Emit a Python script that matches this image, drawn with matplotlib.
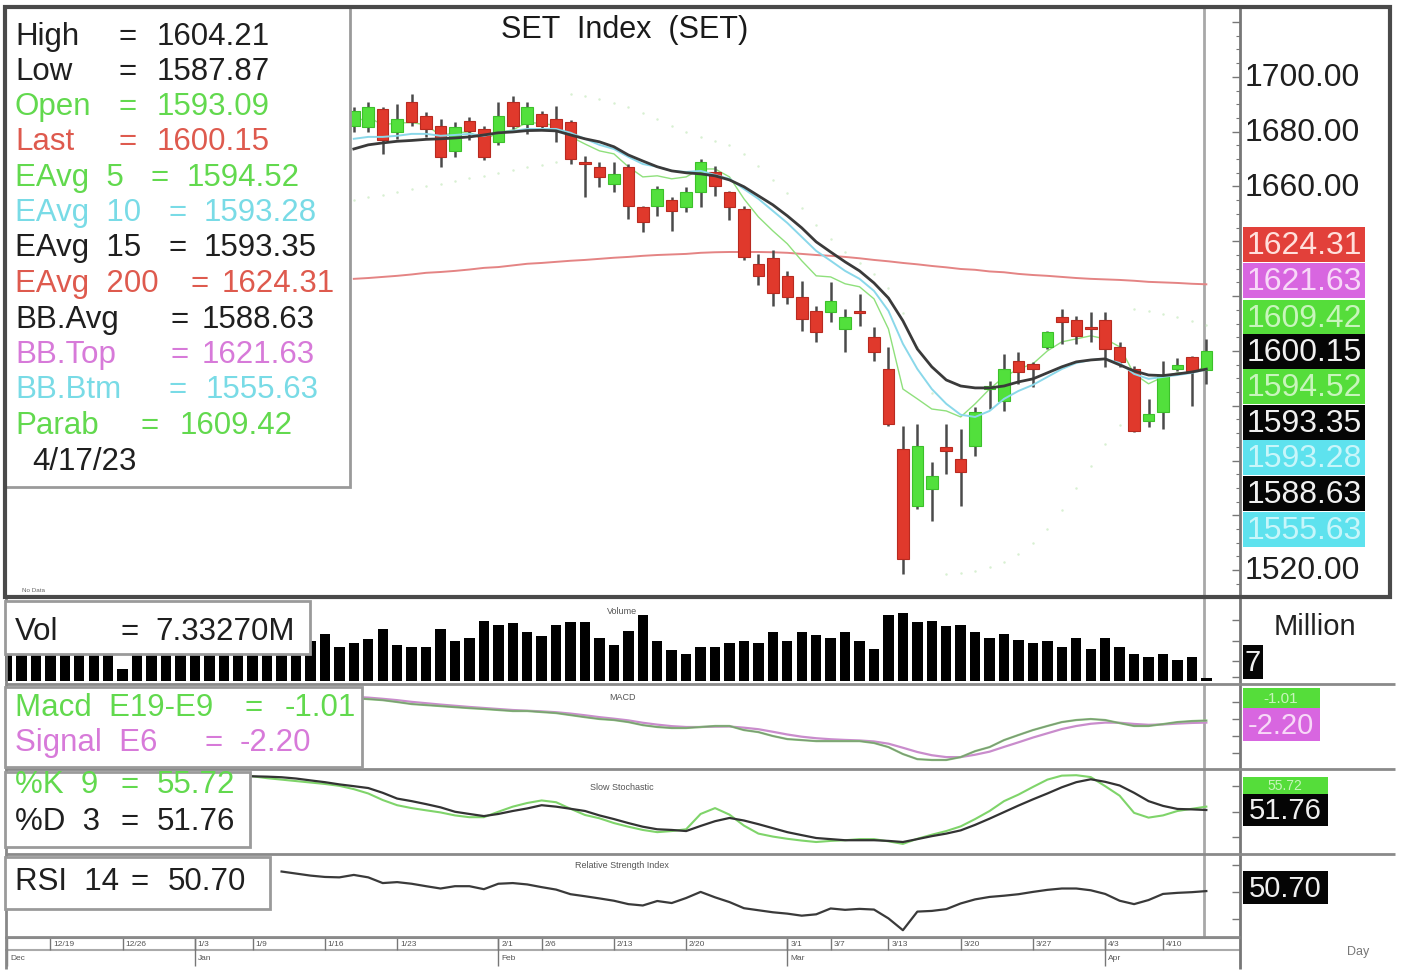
import numpy as np
import pandas as pd
import matplotlib
matplotlib.use("Agg")
import matplotlib.pyplot as plt
from matplotlib.patches import Rectangle

plt.rcParams['font.family'] = ['Liberation Sans', 'DejaVu Sans']

W, H = 1406, 978

# ---------------- data ----------------
holidays = ['2023-01-02', '2023-03-06', '2023-04-06', '2023-04-13', '2023-04-14']
dates = [d for d in pd.bdate_range('2022-12-14', '2023-04-17')
         if d.strftime('%Y-%m-%d') not in holidays]

tick_labels = ['12/19', '12/26', '1/3', '1/9', '1/16', '1/23', '2/1', '2/6', '2/13',
               '2/20', '3/1', '3/7', '3/13', '3/20', '3/27', '4/3', '4/10']
month_labels = ['Dec', 'Jan', 'Feb', 'Mar', 'Apr']

open_ = [1682.2, 1681.6, 1688.3, 1679.8, 1690.8, 1685.9, 1682.2, 1673.1, 1684.0, 1681.0,
         1676.2, 1690.8, 1682.8, 1686.5, 1684.7, 1683.5, 1668.9, 1667.0, 1661.0, 1667.0,
         1652.4, 1653.0, 1654.9, 1652.4, 1657.9, 1665.2, 1657.9, 1651.8, 1631.8, 1634.0,
         1627.5, 1619.6, 1614.7, 1614.1, 1608.0, 1614.7, 1605.0, 1593.4, 1564.2, 1543.5,
         1549.6, 1564.8, 1560.6, 1565.4, 1586.1, 1581.9, 1596.5, 1595.2, 1601.3, 1612.3,
         1611.1, 1608.6, 1611.1, 1601.3, 1593.4, 1574.6, 1577.6, 1593.5, 1597.7, 1593.09]
high_ = [1689.0, 1690.8, 1689.0, 1690.1, 1693.8, 1687.1, 1684.7, 1683.5, 1685.3, 1682.2,
         1690.8, 1693.2, 1690.8, 1687.7, 1689.5, 1684.1, 1671.3, 1668.9, 1668.9, 1668.3,
         1653.0, 1660.3, 1656.1, 1659.7, 1670.1, 1667.6, 1658.5, 1653.0, 1635.4, 1637.0,
         1629.3, 1625.6, 1616.5, 1625.0, 1615.3, 1620.8, 1608.6, 1601.3, 1572.7, 1573.4,
         1559.4, 1573.4, 1571.5, 1579.4, 1588.9, 1598.9, 1599.5, 1595.9, 1607.4, 1615.3,
         1612.9, 1614.1, 1614.1, 1603.2, 1594.6, 1582.5, 1596.5, 1597.5, 1598.3, 1604.21]
low_ = [1680.0, 1679.8, 1671.9, 1677.4, 1682.0, 1678.0, 1667.0, 1670.7, 1676.8, 1669.5,
        1675.0, 1681.0, 1679.2, 1681.0, 1676.2, 1668.3, 1656.1, 1659.7, 1657.9, 1648.2,
        1643.3, 1649.4, 1643.9, 1650.6, 1652.4, 1656.7, 1647.6, 1633.0, 1624.0, 1616.5,
        1617.1, 1607.4, 1603.2, 1610.5, 1599.5, 1609.2, 1596.5, 1572.7, 1518.6, 1542.3,
        1538.1, 1555.1, 1543.5, 1561.8, 1578.8, 1578.2, 1588.0, 1586.7, 1600.7, 1602.6,
        1602.6, 1603.2, 1594.0, 1594.0, 1570.3, 1572.1, 1571.5, 1592.5, 1580.0, 1587.87]
close_ = [1687.7, 1688.9, 1676.8, 1684.7, 1683.5, 1681.0, 1670.7, 1681.6, 1680.4, 1670.7,
          1685.9, 1682.2, 1688.9, 1682.2, 1681.0, 1670.1, 1668.3, 1663.4, 1664.6, 1653.0,
          1647.0, 1659.1, 1651.2, 1657.9, 1668.9, 1660.3, 1652.4, 1634.2, 1627.5, 1621.0,
          1619.6, 1611.7, 1606.8, 1618.1, 1612.3, 1613.8, 1599.5, 1573.4, 1524.1, 1565.4,
          1554.5, 1563.6, 1555.7, 1577.6, 1587.2, 1593.4, 1592.2, 1593.4, 1606.8, 1610.5,
          1605.6, 1608.0, 1600.7, 1595.9, 1570.9, 1577.0, 1591.0, 1595.0, 1592.8, 1600.15]

ema15 = [1673.7, 1675.2, 1675.9, 1676.5, 1676.8, 1677.2, 1677.4, 1677.7, 1678.1, 1678.8,
         1679.6, 1679.9, 1680.4, 1680.5, 1680.3, 1678.8, 1677.4, 1676.3, 1674.5, 1671.5,
         1669.3, 1667.2, 1665.7, 1665.0, 1664.6, 1663.9, 1662.4, 1659.9, 1656.6, 1653.3,
         1649.3, 1644.9, 1639.8, 1636.1, 1632.5, 1629.2, 1624.8, 1619.3, 1611.0, 1600.7,
         1594.2, 1589.4, 1587.2, 1586.5, 1586.5, 1587.2, 1588.7, 1589.8, 1592.0, 1594.2,
         1596.0, 1596.7, 1597.1, 1594.9, 1592.7, 1591.2, 1591.0, 1591.6, 1592.3, 1593.35]
ema10 = [1677.4, 1678.1, 1678.1, 1678.5, 1679.2, 1679.2, 1678.5, 1678.8, 1679.2, 1678.5,
         1679.6, 1680.3, 1681.0, 1681.0, 1681.0, 1679.6, 1677.4, 1675.2, 1673.7, 1670.8,
         1668.2, 1667.2, 1665.7, 1665.3, 1665.7, 1664.2, 1662.8, 1659.1, 1655.5, 1651.1,
         1646.7, 1641.6, 1636.5, 1632.9, 1629.2, 1626.3, 1621.9, 1614.6, 1602.6, 1593.4,
         1586.1, 1580.7, 1576.7, 1575.9, 1578.1, 1582.5, 1585.4, 1587.6, 1590.5, 1593.4,
         1595.6, 1596.7, 1597.1, 1595.6, 1591.6, 1589.8, 1590.5, 1591.2, 1592.0, 1593.28]
ema5 = [1683.5, 1685.3, 1682.5, 1683.2, 1683.3, 1682.5, 1678.6, 1679.6, 1679.9, 1676.8,
        1679.8, 1680.6, 1683.4, 1683.0, 1682.3, 1678.2, 1675.5, 1673.0, 1671.9, 1667.2,
        1663.5, 1663.9, 1662.8, 1663.5, 1666.4, 1666.4, 1663.5, 1655.5, 1648.9, 1643.8,
        1639.1, 1632.9, 1627.4, 1627.0, 1624.5, 1623.4, 1619.0, 1608.0, 1586.1, 1582.5,
        1578.8, 1578.1, 1575.9, 1580.7, 1586.1, 1590.5, 1593.4, 1595.3, 1600.0, 1603.3,
        1604.4, 1605.5, 1604.4, 1601.5, 1591.6, 1588.0, 1590.5, 1592.0, 1592.0, 1594.52]
ema200 = [1626.3, 1626.6, 1627.0, 1627.4, 1627.9, 1628.5, 1628.8, 1629.2, 1629.7, 1630.3,
          1630.6, 1631.2, 1631.8, 1632.1, 1632.5, 1632.9, 1633.2, 1633.6, 1634.0, 1634.3,
          1634.7, 1635.0, 1635.2, 1635.4, 1635.8, 1636.0, 1636.1, 1636.1, 1636.1, 1636.0,
          1635.8, 1635.4, 1635.0, 1634.7, 1634.3, 1633.8, 1633.2, 1632.7, 1632.1, 1631.6,
          1631.0, 1630.5, 1629.9, 1629.6, 1629.0, 1628.7, 1628.1, 1627.7, 1627.4, 1627.0,
          1626.6, 1626.3, 1626.1, 1625.9, 1625.6, 1625.2, 1625.0, 1624.8, 1624.5, 1624.31]
parab = [1655.0, 1656.0, 1657.0, 1658.0, 1659.0, 1660.0, 1661.0, 1662.0, 1663.0, 1664.0,
         1665.0, 1666.0, 1667.0, 1668.0, 1669.0, 1693.8, 1693.0, 1692.0, 1690.5, 1689.0,
         1687.0, 1684.5, 1682.0, 1680.0, 1678.0, 1676.5, 1675.0, 1672.0, 1667.5, 1662.5,
         1657.5, 1652.0, 1646.0, 1641.0, 1636.0, 1632.0, 1628.0, 1623.0, 1614.0, 1601.3,
         1584.8, 1518.6, 1519.0, 1519.7, 1521.0, 1523.0, 1526.0, 1530.0, 1535.0, 1542.0,
         1550.0, 1558.0, 1566.0, 1573.0, 1615.3, 1614.4, 1613.3, 1612.2, 1611.0, 1609.42]

volume = [110, 105, 118, 100, 112, 108, 96, 102, 30, 95,
          104, 110, 99, 107, 120, 115, 101, 109, 113, 106,
          117, 100, 115, 85, 94, 103, 129, 89, 85, 85,
          129, 98, 107, 148, 139, 142, 120, 111, 138, 145,
          145, 107, 89, 124, 164, 98, 76, 67, 85, 85,
          93, 98, 93, 120, 98, 120, 113, 107, 120, 98,
          80, 163, 168, 146, 148, 137, 139, 120, 107, 115,
          102, 93, 98, 85, 107, 80, 107, 85, 67, 59,
          67, 52, 59, 7.33]

macd = [12.2, 11.6, 11.0, 9.9, 8.7, 8.1, 7.5, 6.9, 6.3, 5.8,
        5.2, 4.6, 4.6, 4.0, 3.4, 2.2, 1.0, -0.1, -0.7, -1.9,
        -3.7, -4.8, -5.4, -5.4, -4.8, -4.2, -4.2, -6.6, -7.8, -10.1,
        -11.9, -12.5, -13.1, -13.1, -13.1, -13.1, -14.2, -16.6, -20.7, -23.7,
        -24.2, -24.2, -22.5, -19.0, -16.6, -12.5, -9.5, -6.6, -4.2, -1.9,
        -0.7, -0.1, -0.7, -2.5, -4.2, -4.2, -3.1, -1.9, -1.3, -1.01]
signal = [13.0, 12.5, 11.8, 11.0, 10.0, 9.2, 8.4, 7.7, 7.0, 6.4,
          5.8, 5.2, 4.8, 4.4, 3.9, 3.1, 2.1, 1.0, 0.1, -0.9,
          -2.3, -3.4, -4.3, -4.8, -4.8, -4.6, -4.5, -5.2, -6.1, -7.6,
          -9.2, -10.5, -11.4, -12.0, -12.4, -12.7, -13.3, -14.6, -17.0, -19.5,
          -21.4, -22.5, -22.5, -21.1, -19.3, -16.5, -13.8, -11.0, -8.5, -6.0,
          -4.2, -2.9, -2.2, -2.3, -3.0, -3.5, -3.3, -2.8, -2.4, -2.20]

stoch_k = [91.4, 89.2, 87.5, 85.8, 84.1, 82.4, 80.2,
           76.3, 71.2, 63.5, 57.4, 54.0, 51.4, 48.9, 45.4, 43.3, 43.3,
           49.7, 55.7, 60.0, 63.0, 60.9, 53.2, 45.9, 42.0, 36.4, 32.1,
           28.3, 25.7, 27.0, 29.1, 47.1, 54.0, 46.3, 33.4, 24.0, 20.5,
           17.9, 15.8, 14.1, 15.4, 16.2, 17.5, 17.5, 14.9, 11.9, 17.9,
           22.7, 27.0, 32.5, 41.1, 50.6, 62.2, 69.9, 78.9, 87.5, 92.2,
           92.7, 90.5, 79.8, 68.6, 48.4, 42.8, 45.4, 50.6, 53.2, 55.72]
stoch_d = [91.4, 91.0, 90.3, 88.8, 86.6, 84.5, 81.9,
           79.8, 77.6, 72.0, 65.2, 62.2, 58.7, 54.9, 49.7, 47.1, 44.6,
           47.1, 50.6, 53.6, 57.4, 55.7, 53.2, 50.6, 45.4, 41.1, 36.4,
           32.1, 29.1, 28.3, 27.0, 33.0, 38.6, 42.4, 39.4, 35.1, 30.4,
           25.7, 22.2, 18.8, 17.5, 16.2, 16.2, 16.2, 15.4, 14.1, 17.5,
           21.0, 24.0, 27.8, 34.3, 41.6, 49.3, 57.0, 64.3, 71.2, 78.5,
           84.5, 87.9, 84.9, 80.6, 72.0, 62.2, 56.6, 53.0, 52.5, 51.76]

rsi = [65.1, 63.6, 62.1, 61.1, 60.8,
       62.6, 60.8, 56.6, 57.3, 56.1, 54.3, 52.6, 54.3, 54.3, 52.1,
       56.1, 56.6, 55.6, 53.6, 51.8, 48.4, 46.9, 45.3, 43.6, 41.1,
       40.1, 43.4, 41.9, 45.6, 50.1, 46.1, 42.6, 38.1, 36.6, 35.1,
       34.1, 32.6, 33.6, 37.9, 36.9, 37.6, 37.1, 30.6, 21.9, 35.6,
       36.1, 37.4, 41.6, 44.6, 46.4, 47.3, 48.4, 50.1, 51.6, 52.6,
       52.6, 51.3, 48.6, 43.6, 41.1, 44.1, 48.6, 49.4, 49.9, 50.70]

# ---------------- figure ----------------
fig = plt.figure(figsize=(W / 100, H / 100), dpi=100)
fig.patch.set_facecolor('white')


def add_ax(x0, y0, x1, y1):
    return fig.add_axes([x0 / W, 1 - y1 / H, (x1 - x0) / W, (y1 - y0) / H])


n = len(dates)
XL = (-0.14, 85.33)


def idx(arr):
    return np.arange(n - len(arr), n)


def style(ax):
    ax.set_xlim(*XL)
    for s in ax.spines.values():
        s.set_visible(False)
    ax.set_xticks([])
    ax.yaxis.tick_right()
    ax.tick_params(axis='y', which='both', direction='in', color='#777',
                   labelright=False, labelleft=False, right=True, left=False)
    ax.tick_params(axis='y', which='major', length=6, width=1)
    ax.tick_params(axis='y', which='minor', length=3, width=0.8)
    ax.patch.set_alpha(0)
    ax.axvline(n - 1 - 0.15, color='#a8a8a8', lw=2, zorder=1)


GREEN = '#52e03c'
RED = '#e0392c'

# main price panel
axm = add_ax(5, 8, 1240, 598)
style(axm)
axm.set_ylim(1510.2, 1725.5)
axm.set_yticks(np.arange(1520, 1721, 20))
axm.set_yticks(np.arange(1515, 1726, 5), minor=True)

o = np.array(open_); h = np.array(high_); l = np.array(low_); c = np.array(close_)
xc = idx(close_)
up = c >= o
body_col = np.where(up, GREEN, RED)
edge_col = np.where(up, '#3cc02a', '#b82a20')
axm.plot(idx(parab), parab, linestyle='none', marker='o', markersize=1.8,
         markeredgewidth=0, color='#b9e4ae', alpha=0.55, zorder=1.5)
axm.vlines(xc, l, h, color='#4a4a4a', lw=1.8, zorder=3)
axm.bar(xc, np.maximum(np.abs(c - o), 0.6), bottom=np.minimum(o, c), width=0.8,
        color=body_col, edgecolor=edge_col, lw=0.8, zorder=4)

axm.plot(idx(ema200), ema200, color='#e48484', lw=1.4, zorder=2)
axm.plot(idx(ema5), ema5, color='#8fe07c', lw=1.0, zorder=2.5)
axm.plot(idx(ema10), ema10, color='#8ad8ea', lw=1.4, zorder=5)
axm.plot(idx(ema15), ema15, color='#3a3a3a', lw=2.0, zorder=5)

# volume
axv = add_ax(5, 600, 1240, 682)
style(axv)
axv.set_ylim(0, 202.5)
axv.set_yticks([10, 50, 100, 150])
axv.bar(np.arange(n), volume, width=0.72, color='black', zorder=3)

# MACD
axc = add_ax(5, 685, 1240, 770)
style(axc)
axc.set_ylim(-29.5, 20.5)
axc.set_yticks([-20, -10, 0, 10])
axc.plot(idx(signal), signal, color='#c98ccc', lw=1.6, zorder=3)
axc.plot(idx(macd), macd, color='#86c478', lw=1.6, zorder=4)
axc.plot(idx(macd), macd, color='#777777', lw=0.8, alpha=0.6, zorder=4)

# Stochastic
axs = add_ax(5, 770, 1240, 855)
style(axs)
axs.set_ylim(0, 100)
axs.set_yticks([20, 50, 80])
axs.plot(idx(stoch_k), stoch_k, color='#7fd46a', lw=1.5, zorder=3)
axs.plot(idx(stoch_d), stoch_d, color='#333333', lw=1.6, zorder=4)

# RSI
axr = add_ax(5, 855, 1240, 938)
style(axr)
axr.set_ylim(16.9, 78.0)
axr.set_yticks([30, 50, 70])
axr.plot(idx(rsi), rsi, color='#3a3a3a', lw=1.6, zorder=3)

# date strip
axd = add_ax(5, 938, 1240, 968)
axd.set_xlim(*XL)
axd.set_ylim(1, 0)
axd.axis('off')
axd.plot(XL, [0.02, 0.02], color='#999', lw=1.5)
axd.plot(XL, [0.42, 0.42], color='#aaa', lw=1.5)
lab_of = [f"{d.month}/{d.day}" for d in dates]
for lab in tick_labels:
    i = lab_of.index(lab)
    axd.vlines(i, 0.02, 0.42, color='#777', lw=1)
    axd.text(i + 0.2, 0.22, lab, fontsize=6, color='#555', va='center', ha='left')
mon_of = [d.strftime('%b') for d in dates]
for m in month_labels:
    i = mon_of.index(m)
    axd.vlines(i, 0.02, 0.95, color='#777', lw=1)
    axd.text(i + 0.2, 0.7, m, fontsize=6, color='#555', va='center', ha='left')

# ---------------- overlay (frames, legends, labels) ----------------
ov = fig.add_axes([0, 0, 1, 1])
ov.set_xlim(0, W)
ov.set_ylim(H, 0)
ov.axis('off')
ov.patch.set_alpha(0)


def line(x0, y0, x1, y1, color='#888', lw=2, z=7):
    ov.plot([x0, x1], [y0, y1], color=color, lw=lw, zorder=z, solid_capstyle='butt')


def box(x0, y0, x1, y1, fc='white', ec='#9a9a9a', lw=2, z=8):
    r = Rectangle((x0, y0), x1 - x0, y1 - y0, fc=fc, ec=ec, lw=lw, zorder=z)
    ov.add_patch(r)
    return r


def txt(x, y, s, color='#1a1a1a', size=22.5, ha='left', z=9, **kw):
    return ov.text(x, y, s, color=color, fontsize=size, ha=ha, va='center', zorder=z, **kw)


# frames
ov.add_patch(Rectangle((5, 8), 1385, 590, fc='none', ec='#4a4a4a', lw=3, zorder=10))
line(1240, 8, 1240, 970, color='#777', lw=2)
line(6, 598, 6, 970, color='#888', lw=2)
for yy in (685, 770, 855):
    line(5, yy, 1395, yy, color='#8a8a8a', lw=2)
line(5, 938, 1240, 938, color='#8a8a8a', lw=2)

TG = '#62d94e'   # legend green
TR = '#de5a4e'   # legend red
TC = '#79dbe6'   # legend cyan
TV = '#d77ad9'   # legend violet
TK = '#1f1f1f'

# title
txt(625, 30, 'SET  Index  (SET)', size=22, ha='center', z=6)

# main legend box
box(5, 8, 350, 488)
legend_rows = [
    ('High', 118, 157, '1604.21', TK, 37),
    ('Low', 118, 157, '1587.87', TK, 72),
    ('Open', 118, 157, '1593.09', TG, 107),
    ('Last', 118, 157, '1600.15', TR, 142),
    ('EAvg  5', 150, 187, '1594.52', TG, 178),
    ('EAvg  10', 168, 204, '1593.28', TC, 213),
    ('EAvg  15', 168, 204, '1593.35', TK, 248),
    ('EAvg  200', 190, 222, '1624.31', TR, 284),
    ('BB.Avg', 170, 202, '1588.63', TK, 320),
    ('BB.Top', 170, 202, '1621.63', TV, 355),
    ('BB.Btm', 168, 206, '1555.63', TC, 390),
    ('Parab', 140, 180, '1609.42', TG, 426),
]
for lab, ex, vx, val, col, yy in legend_rows:
    txt(15, yy, lab, col)
    txt(ex, yy, '=', col)
    txt(vx, yy, val, col)
txt(32, 462, '4/17/23', TK)
txt(22, 591, 'No Data', color='#666', size=4.5, z=6)

# main right axis labels
for val, yy in (('1700.00', 78), ('1680.00', 133), ('1660.00', 188), ('1520.00', 571)):
    txt(1245, yy, val, color='#1f1f1f', size=23)

main_boxes = [
    ('1624.31', 245, '#e2403a', '#ffe0dc'),
    ('1621.63', 281, '#d866e0', '#f8d8f8'),
    ('1609.42', 318, '#55dd3a', '#c8f5bc'),
    ('1600.15', 352, '#050505', '#f0f0f0'),
    ('1594.52', 387, '#55dd3a', '#c8f5bc'),
    ('1593.35', 423, '#050505', '#f0f0f0'),
    ('1593.28', 458, '#5ee2ee', '#c8f6fa'),
    ('1588.63', 494, '#050505', '#f0f0f0'),
    ('1555.63', 530, '#5ee2ee', '#c8f6fa'),
]
for val, yy, fc, tc in main_boxes:
    box(1243, yy - 17.5, 1365, yy + 17.5, fc=fc, ec='none', lw=0)
    txt(1304, yy + 1, val, color=tc, size=23, ha='center')

# volume legend & labels
box(5, 602, 310, 655)
txt(15, 632, 'Vol', TK)
txt(120, 632, '=', TK)
txt(155, 632, '7.33270M', TK)
txt(622, 612, 'Volume', color='#555', size=6.5, ha='center', z=6)
txt(1315, 627, 'Million', color='#222', size=21, ha='center')
box(1243, 646, 1263, 680, fc='#050505', ec='none', lw=0)
txt(1253, 663, '7', color='#f0f0f0', size=21, ha='center')

# MACD legend & labels
box(5, 688, 362, 768)
txt(15, 708, 'Macd  E19-E9', TG)
txt(245, 708, '=', TG)
txt(285, 708, '-1.01', TG)
txt(15, 743, 'Signal  E6', TV)
txt(205, 743, '=', TV)
txt(240, 743, '-2.20', TV)
txt(622, 698, 'MACD', color='#555', size=6.5, ha='center', z=6)
box(1243, 689, 1320, 709, fc='#55dd3a', ec='none', lw=0)
txt(1281, 699, '-1.01', color='#c8f5bc', size=11, ha='center')
box(1243, 709, 1320, 742, fc='#d866e0', ec='none', lw=0, z=9)
txt(1281, 726, '-2.20', color='#f8d8f8', size=21, ha='center', z=10)

# Stochastic legend & labels
sb = box(5, 773, 250, 848)
t1 = txt(15, 785, '%K  9', TG)
t2 = txt(120, 785, '=', TG)
t3 = txt(157, 785, '55.72', TG)
for t in (t1, t2, t3):
    t.set_clip_path(sb)
txt(15, 822, '%D  3', TK)
txt(120, 822, '=', TK)
txt(157, 822, '51.76', TK)
txt(622, 787, 'Slow Stochastic', color='#555', size=6.5, ha='center', z=6)
box(1243, 778, 1328, 795, fc='#55dd3a', ec='none', lw=0)
txt(1285, 786.5, '55.72', color='#c8f5bc', size=10, ha='center')
box(1243, 795, 1328, 827, fc='#050505', ec='none', lw=0, z=9)
txt(1285, 811, '51.76', color='#f0f0f0', size=21, ha='center', z=10)

# RSI legend & labels
box(5, 858, 270, 910)
txt(15, 882, 'RSI  14', TK)
txt(130, 882, '=', TK)
txt(168, 882, '50.70', TK)
txt(622, 866, 'Relative Strength Index', color='#555', size=6.5, ha='center', z=6)
box(1243, 872, 1328, 905, fc='#050505', ec='none', lw=0)
txt(1285, 889, '50.70', color='#f0f0f0', size=21, ha='center')

txt(1358, 952, 'Day', color='#777', size=9, ha='center')

fig.savefig('out.png', dpi=100, facecolor='white')
